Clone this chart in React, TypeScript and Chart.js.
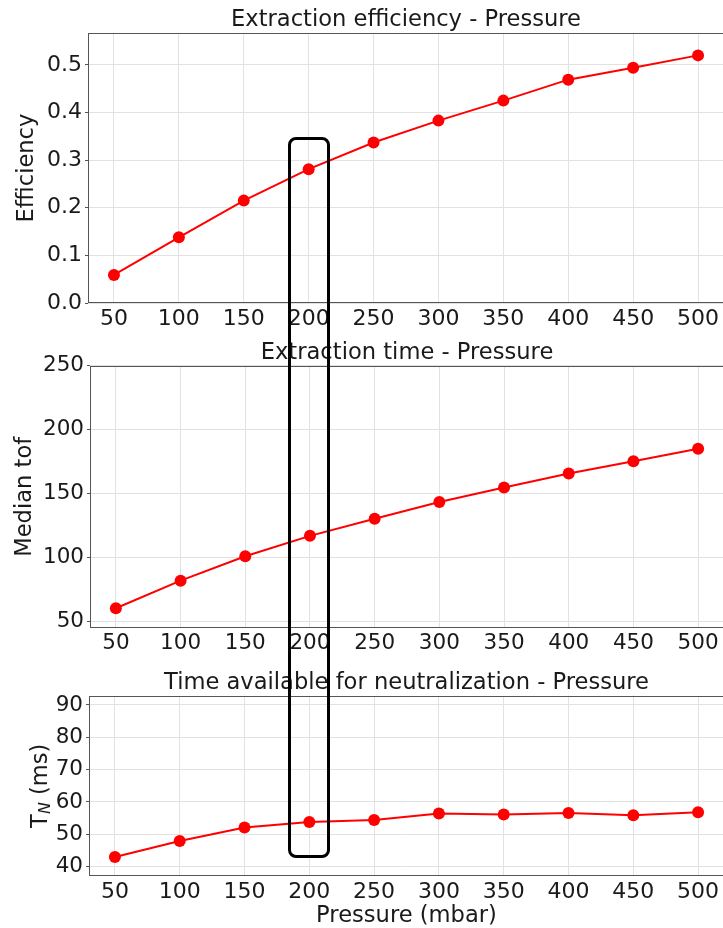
import React, { useEffect, useRef } from "react";
import { Chart, registerables } from "chart.js";

Chart.register(...registerables);

// ---------- data ----------
const pressure = [50, 100, 150, 200, 250, 300, 350, 400, 450, 500];
const efficiency = [0.059, 0.138, 0.215, 0.281, 0.337, 0.383, 0.425, 0.469, 0.494, 0.52];
const medianTof = [60.4, 82.0, 101.0, 117.0, 130.3, 143.5, 154.7, 165.7, 175.2, 185.1];
const timeNeutralization = [43.0, 47.9, 52.1, 53.8, 54.4, 56.4, 56.1, 56.6, 55.9, 56.8];

const xTicks = [50, 100, 150, 200, 250, 300, 350, 400, 450, 500];
const efficiencyTicks = [0, 0.1, 0.2, 0.3, 0.4, 0.5];
const tofTicks = [50, 100, 150, 200, 250];
const tnTicks = [40, 50, 60, 70, 80, 90];

const xRange = [30, 520];
const efficiencyRange = [0, 0.567];
const tofRange = [45, 250];
const tnRange = [37.1, 92.9];

const titles = [
  "Extraction efficiency - Pressure",
  "Extraction time - Pressure",
  "Time available for neutralization - Pressure",
];
const xLabel = "Pressure (mbar)";
const yLabels = ["Efficiency", "Median tof"];
const tnLabel = { main: "T", sub: "N", unit: " (ms)" };

// highlighted region: x from 184 to 216.5, from 0.348 (top panel) down to 42.8 (bottom panel)
const highlight = { x0: 184, x1: 216.5, top: 0.348, bottom: 42.8 };

// ---------- style ----------
const FONT = "DejaVu Sans";
const RED = "#ff0000";
const TEXT = "#1a1a1a";
const GRID = "#e2e2e2";
const SPINE = "#555555";
const CANVAS_W = 730;
const PLOT_RIGHT = 724;
const LABEL_SIZE = 22.6;

Chart.defaults.font.family = FONT;

const framePlugin = {
  id: "frame",
  afterDraw(chart: any) {
    const { ctx, chartArea: a } = chart;
    ctx.save();
    ctx.strokeStyle = SPINE;
    ctx.lineWidth = 1;
    const l = Math.round(a.left) + 0.5;
    const t = Math.round(a.top) + 0.5;
    const r = Math.round(a.right) - 0.5;
    const b = Math.round(a.bottom) - 0.5;
    ctx.strokeRect(l, t, r - l, b - t);
    ctx.restore();
  },
};

const tnLabelPlugin = {
  id: "tnLabel",
  afterDraw(chart: any, _args: any, opts: any) {
    if (!opts || !opts.display) return;
    const { ctx, chartArea: a } = chart;
    const mainFont = `${opts.size}px '${FONT}'`;
    const subFont = `italic ${opts.subSize}px '${FONT}'`;
    ctx.save();
    ctx.font = mainFont;
    const wT = ctx.measureText(opts.main).width;
    const wU = ctx.measureText(opts.unit).width;
    ctx.font = subFont;
    const wN = ctx.measureText(opts.sub).width;
    const total = wT + wN + wU;
    ctx.translate(a.left - opts.offset, (a.top + a.bottom) / 2);
    ctx.rotate(-Math.PI / 2);
    ctx.fillStyle = TEXT;
    ctx.textBaseline = "alphabetic";
    ctx.textAlign = "left";
    let x = -total / 2;
    ctx.font = mainFont;
    ctx.fillText(opts.main, x, 0);
    x += wT;
    ctx.font = subFont;
    ctx.fillText(opts.sub, x, opts.subShift);
    x += wN;
    ctx.font = mainFont;
    ctx.fillText(opts.unit, x, 0);
    ctx.restore();
  },
};

type Panel = {
  top: number;
  height: number;
  values: number[];
  yTicks: number[];
  yRange: number[];
  decimals: number;
  title: string;
  titlePad: { top: number; bottom: number };
  yAxisWidth: number;
  xAxisHeight: number;
  yTitle?: string;
  yTitlePad?: number;
  tn?: boolean;
  xTitle?: string;
  xTickSize: number;
  yTickSize: number;
};

const panels: Panel[] = [
  {
    top: 0,
    height: 337,
    values: efficiency,
    yTicks: efficiencyTicks,
    yRange: efficiencyRange,
    decimals: 1,
    title: titles[0],
    titlePad: { top: 8.7, bottom: 1.7 },
    yAxisWidth: 88,
    xAxisHeight: 34,
    yTitle: yLabels[0],
    yTitlePad: 15.7,
    xTickSize: 22,
    yTickSize: 22,
  },
  {
    top: 337,
    height: 327,
    values: medianTof,
    yTicks: tofTicks,
    yRange: tofRange,
    decimals: 0,
    title: titles[1],
    titlePad: { top: 5, bottom: 1 },
    yAxisWidth: 90,
    xAxisHeight: 36,
    yTitle: yLabels[1],
    yTitlePad: 13.7,
    xTickSize: 21.5,
    yTickSize: 21.5,
  },
  {
    top: 664,
    height: 264,
    values: timeNeutralization,
    yTicks: tnTicks,
    yRange: tnRange,
    decimals: 0,
    title: titles[2],
    titlePad: { top: 8, bottom: 1 },
    yAxisWidth: 89,
    xAxisHeight: 52,
    tn: true,
    xTitle: xLabel,
    xTickSize: 22,
    yTickSize: 21.5,
  },
];

function buildConfig(p: Panel): any {
  return {
    type: "line",
    data: {
      datasets: [
        {
          data: pressure.map((x, i) => ({ x, y: p.values[i] })),
          borderColor: RED,
          backgroundColor: RED,
          pointBackgroundColor: RED,
          pointBorderColor: RED,
          pointBorderWidth: 0,
          pointRadius: 6,
          borderWidth: 2,
          tension: 0,
        },
      ],
    },
    options: {
      responsive: false,
      animation: false,
      events: [],
      layout: { padding: { left: 0, right: CANVAS_W - PLOT_RIGHT, top: 0, bottom: 0 } },
      plugins: {
        legend: { display: false },
        tooltip: { enabled: false },
        title: {
          display: true,
          text: p.title,
          fullSize: false,
          color: TEXT,
          font: { family: FONT, size: LABEL_SIZE, weight: "normal", lineHeight: 1 },
          padding: p.titlePad,
        },
        tnLabel: p.tn
          ? { display: true, size: LABEL_SIZE, subSize: 15.8, subShift: 3, offset: 42.5, ...tnLabel }
          : { display: false },
      },
      scales: {
        x: {
          type: "linear",
          min: xRange[0],
          max: xRange[1],
          afterBuildTicks: (s: any) => {
            s.ticks = xTicks.map((v) => ({ value: v }));
          },
          afterFit: (s: any) => {
            s.height = p.xAxisHeight;
          },
          grid: { color: GRID, drawTicks: false },
          border: { display: false },
          ticks: {
            color: TEXT,
            font: { size: p.xTickSize, lineHeight: 1 },
            padding: 5,
            maxRotation: 0,
            autoSkip: false,
            callback: (v: any) => String(v),
          },
          title: p.xTitle
            ? {
                display: true,
                text: p.xTitle,
                color: TEXT,
                font: { size: LABEL_SIZE, lineHeight: 1 },
                padding: { top: 0, bottom: 1 },
              }
            : { display: false },
        },
        y: {
          type: "linear",
          min: p.yRange[0],
          max: p.yRange[1],
          afterBuildTicks: (s: any) => {
            s.ticks = p.yTicks.map((v) => ({ value: v }));
          },
          afterFit: (s: any) => {
            s.width = p.yAxisWidth;
          },
          grid: { color: GRID, tickLength: 3, tickColor: SPINE },
          border: { display: false },
          ticks: {
            color: TEXT,
            font: { size: p.yTickSize, lineHeight: 1 },
            padding: 3,
            autoSkip: false,
            callback: (v: any) => Number(v).toFixed(p.decimals),
          },
          title: p.yTitle
            ? {
                display: true,
                text: p.yTitle,
                color: TEXT,
                font: { size: LABEL_SIZE, lineHeight: 1 },
                padding: p.yTitlePad,
              }
            : { display: false },
        },
      },
    },
    plugins: [framePlugin, tnLabelPlugin],
  };
}

export default function App() {
  const r1 = useRef<HTMLCanvasElement>(null);
  const r2 = useRef<HTMLCanvasElement>(null);
  const r3 = useRef<HTMLCanvasElement>(null);
  const boxRef = useRef<HTMLDivElement>(null);
  const refs = [r1, r2, r3];

  useEffect(() => {
    const charts = panels.map((p, i) => new Chart(refs[i].current as HTMLCanvasElement, buildConfig(p)));
    const c1 = charts[0] as any;
    const c3 = charts[2] as any;
    const left = c1.scales.x.getPixelForValue(highlight.x0);
    const right = c1.scales.x.getPixelForValue(highlight.x1);
    const top = panels[0].top + c1.scales.y.getPixelForValue(highlight.top);
    const bottom = panels[2].top + c3.scales.y.getPixelForValue(highlight.bottom);
    const box = boxRef.current;
    if (box) {
      box.style.left = `${left}px`;
      box.style.top = `${top}px`;
      box.style.width = `${right - left}px`;
      box.style.height = `${bottom - top}px`;
      box.style.display = "block";
    }
    return () => charts.forEach((c) => c.destroy());
  }, []);

  return (
    <div
      style={{
        position: "absolute",
        left: 0,
        top: 0,
        width: 723,
        height: 928,
        overflow: "hidden",
        background: "#ffffff",
      }}
    >
      {panels.map((p, i) => (
        <canvas
          key={i}
          ref={refs[i]}
          width={CANVAS_W}
          height={p.height}
          style={{ position: "absolute", left: 0, top: p.top, width: CANVAS_W, height: p.height, display: "block" }}
        />
      ))}
      <div
        ref={boxRef}
        style={{
          position: "absolute",
          display: "none",
          boxSizing: "border-box",
          border: "3px solid #000",
          borderRadius: 8,
          pointerEvents: "none",
        }}
      />
    </div>
  );
}
